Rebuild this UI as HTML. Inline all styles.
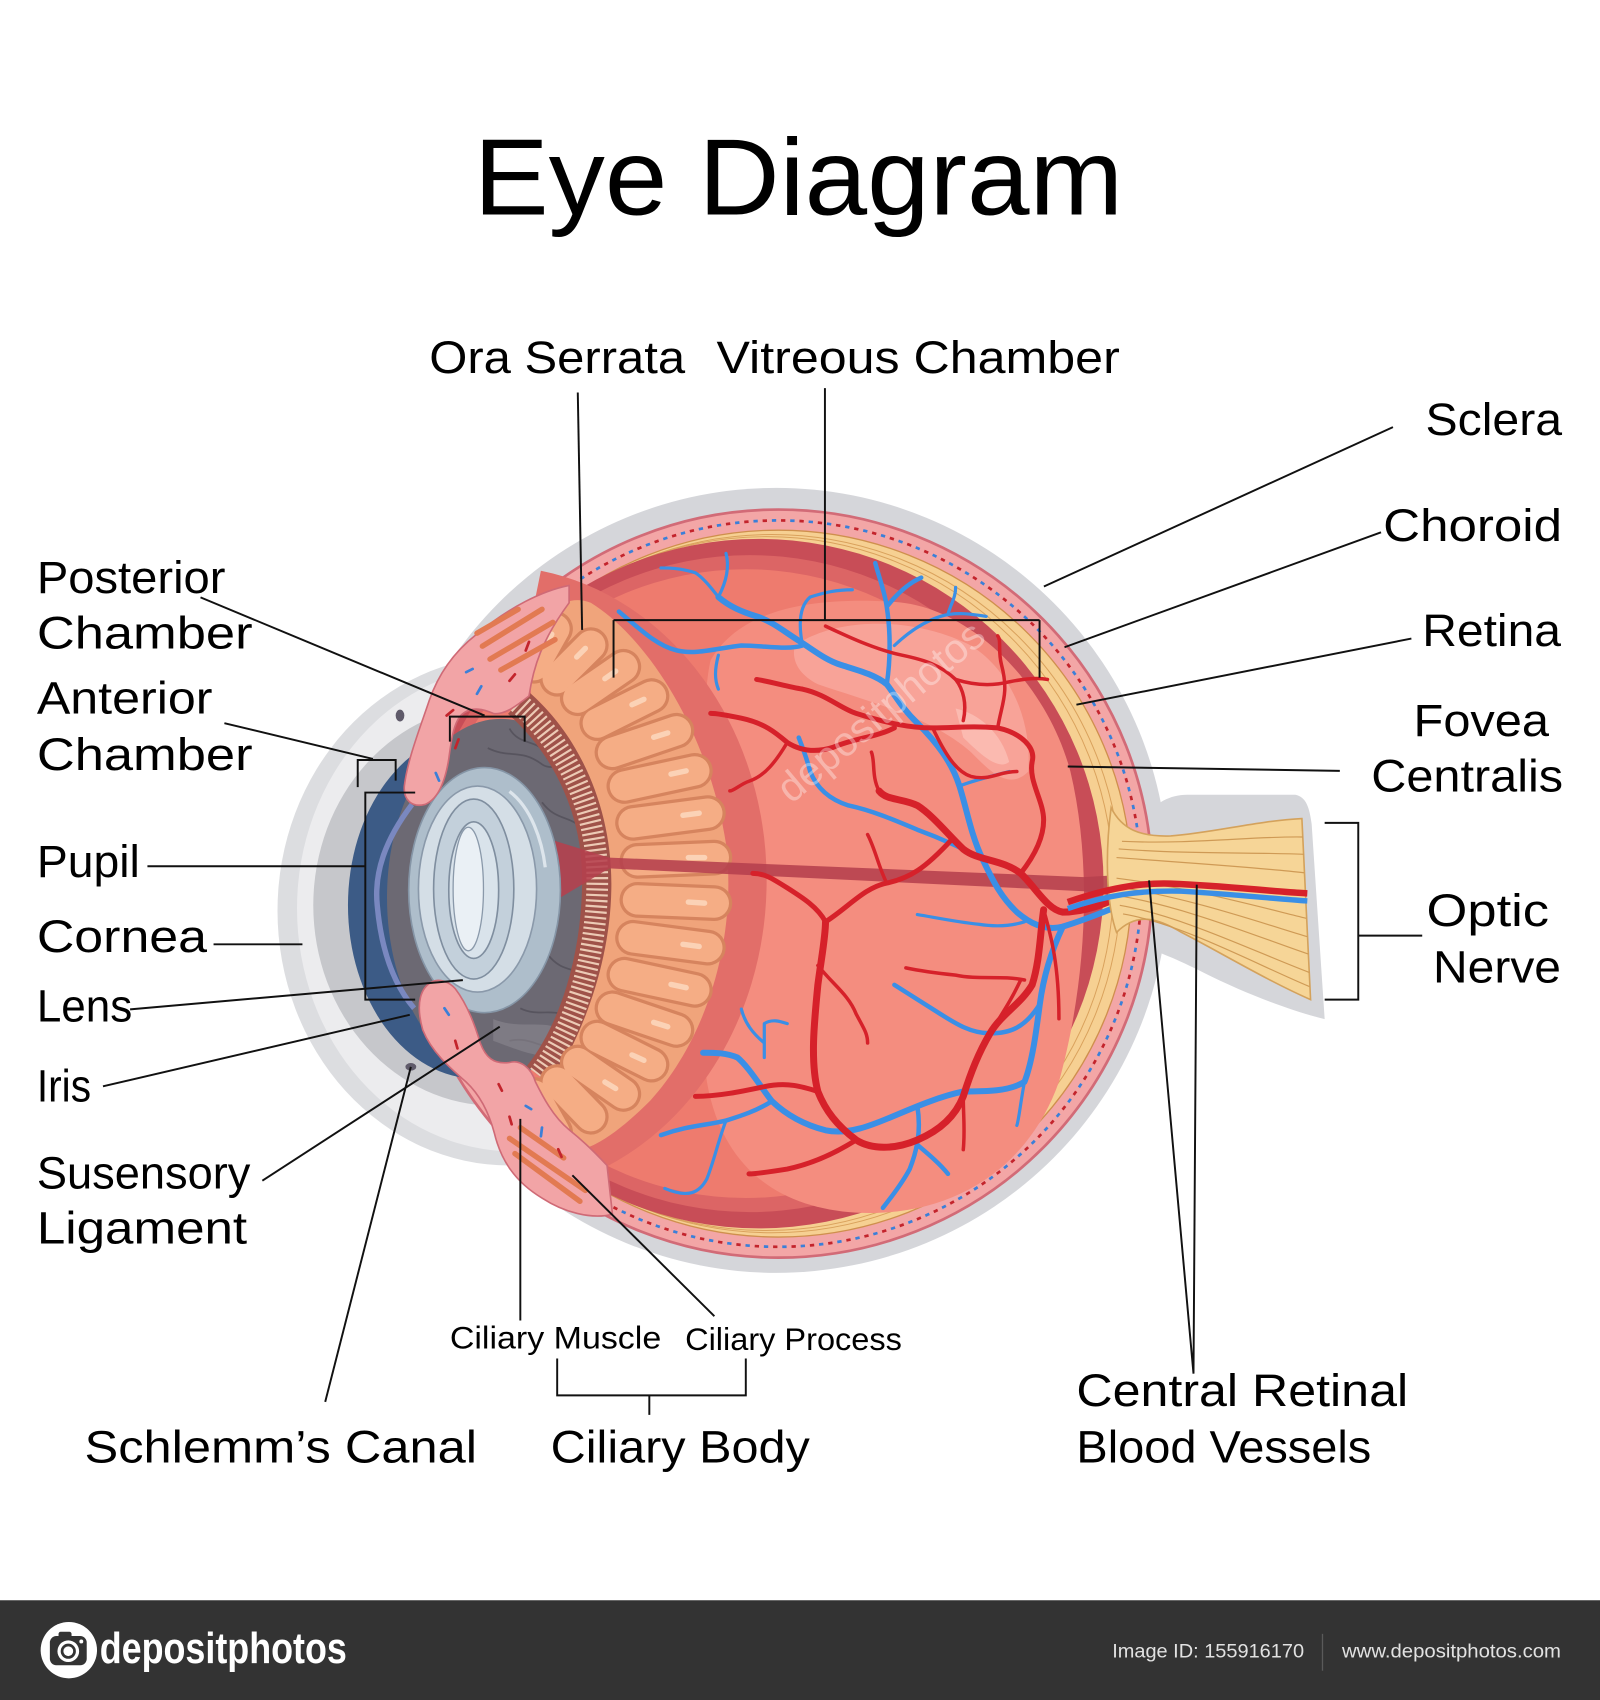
<!DOCTYPE html>
<html><head><meta charset="utf-8"><style>
html,body{margin:0;padding:0;background:#fff;overflow:hidden}
svg{display:block}
.lbl{font-family:"Liberation Sans",sans-serif;fill:#000}
.ln{stroke:#111;stroke-width:1.8;fill:none}
.v{fill:none;stroke-linecap:round;stroke-linejoin:round;vector-effect:non-scaling-stroke}
.r1{stroke:#d6212a;stroke-width:7}.r2{stroke:#d6212a;stroke-width:5}.r3{stroke:#d6212a;stroke-width:3.5}
.b1{stroke:#3a8fe6;stroke-width:6}.b2{stroke:#3a8fe6;stroke-width:4.5}.b3{stroke:#3a8fe6;stroke-width:3.2}
</style></head><body>
<svg width="1600" height="1700" viewBox="0 0 1476 1568" preserveAspectRatio="none" xmlns="http://www.w3.org/2000/svg">
<rect width="1476" height="1568" fill="#fff"/>

<!-- gray halo -->
<circle cx="716" cy="812" r="362" fill="#d5d6da"/>
<path d="M1045,770 C1058,745 1075,733 1095,733 L1195,733 C1205,735 1208,745 1210,760 L1222,940 C1190,932 1150,917 1110,897 C1080,882 1060,874 1045,872 Z" fill="#d5d6da"/>
<!-- cornea layers -->
<ellipse cx="470" cy="840" rx="214" ry="235" fill="#dcdde0"/>
<ellipse cx="474" cy="838" rx="200" ry="224" fill="#ececee"/>
<ellipse cx="457" cy="835" rx="168" ry="185" fill="#c6c7cb"/>

<!-- globe -->
<circle cx="718" cy="815" r="345" fill="#f3a6a6" stroke="#d26b77" stroke-width="2.5"/>
<circle cx="718" cy="815" r="335" fill="none" stroke="#c3242c" stroke-width="2.5" stroke-dasharray="4 13"/>
<circle cx="718" cy="815" r="335" fill="none" stroke="#3b7fd8" stroke-width="2.5" stroke-dasharray="4 13" stroke-dashoffset="8.5"/>
<circle cx="718" cy="815" r="326" fill="#f6d092" stroke="#cf8f4d" stroke-width="1.2"/>
<circle cx="712" cy="815" r="322" fill="none" stroke="#d9a15c" stroke-width="0.9"/>
<circle cx="707" cy="815" r="320" fill="none" stroke="#d9a15c" stroke-width="0.9"/>
<circle cx="700" cy="815" r="318" fill="#c84d57"/>
<circle cx="692" cy="815" r="303" fill="#dc6565"/>
<circle cx="688" cy="815" r="290" fill="#ee7b6e"/>

<!-- inner vitreous lighter region (zoom coords) -->
<g transform="matrix(0.3530 0 0 0.44712 507.38 461.25)">
<path d="M420,330 C500,220 700,200 900,210 C1100,220 1300,380 1360,560 C1420,760 1400,1000 1330,1200 C1250,1380 1050,1480 800,1470 C600,1460 450,1380 410,1200 C380,1000 390,700 400,500 C405,420 410,360 420,330 Z" fill="#f48d7f"/>
<path d="M640,300 C750,240 950,240 1100,300 C1200,350 1260,450 1250,560 C1200,600 1150,560 1100,520 C1000,450 850,420 700,380 C650,360 630,330 640,300 Z" fill="#f8a79c" opacity="0.85"/>
<path d="M1060,430 C1120,440 1180,480 1200,540 C1170,560 1120,520 1080,490 Z" fill="#fbbfb7" opacity="0.8"/>
</g>

<!-- dark band around ciliary -->
<path d="M495,546 A232 270 0 0 1 495,1078" fill="none" stroke="#e26e69" stroke-width="40"/>

<!-- cornea blue (left half) -->
<path d="M440,675 A119 160 0 0 0 440,995 Z" fill="#3c5b86"/>
<!-- iris dark -->
<ellipse cx="462" cy="828" rx="105" ry="165" fill="#6c6973"/>
<path d="M380,742 C355,775 345,805 348,835 C352,880 365,910 382,930" fill="none" stroke="#7a88c0" stroke-width="5"/>
<g fill="none" stroke="#57545e" stroke-width="1.6">
<path d="M450,690 C470,700 480,690 500,705 C510,712 520,700 530,715"/>
<path d="M470,672 C480,690 500,680 505,700"/>
<path d="M500,740 C515,760 530,750 540,770"/>
<path d="M480,930 C500,940 515,925 530,945"/>
<path d="M470,960 C490,955 500,970 520,965"/>
<path d="M505,880 C520,900 535,890 545,905"/>
</g>
<path d="M455,940 C480,950 500,940 520,950 L515,975 C490,975 470,965 455,960 Z" fill="#8a8790" opacity="0.6"/>

<!-- zonule band -->
<path d="M478,648 C525,690 552,750 551,815 C550,885 530,950 497,992" fill="none" stroke="#9f5249" stroke-width="28"/>
<path d="M478,648 C525,690 552,750 551,815 C550,885 530,950 497,992" fill="none" stroke="#eccab5" stroke-width="20" stroke-dasharray="2 3.2"/>

<!-- peach ciliary body -->
<path d="M495,585 C505,560 525,548 545,556 C600,590 655,680 670,780 C680,870 650,960 600,1015 C570,1045 545,1062 525,1062 C505,1060 500,1030 505,1005 C535,960 564,890 564,815 C564,745 535,680 490,640 C488,620 490,600 495,585 Z" fill="#f0a47b"/>
<g stroke-linecap="round" fill="none">
<g stroke="#d6845e" stroke-width="33">
<path d="M493,614 L512,580"/><path d="M514,626 L545,595"/><path d="M533,644 L575,615"/><path d="M551,667 L601,642"/><path d="M565,694 L624,674"/><path d="M576,725 L641,711"/><path d="M584,759 L653,750"/><path d="M588,794 L659,791"/><path d="M588,830 L659,833"/><path d="M584,865 L653,874"/><path d="M576,899 L641,913"/><path d="M565,930 L624,950"/><path d="M551,957 L601,982"/><path d="M533,980 L575,1009"/><path d="M514,998 L545,1030"/><path d="M493,1010 L512,1044"/>
</g>
<g stroke="#f5ad85" stroke-width="27">
<path d="M493,614 L512,580"/><path d="M514,626 L545,595"/><path d="M533,644 L575,615"/><path d="M551,667 L601,642"/><path d="M565,694 L624,674"/><path d="M576,725 L641,711"/><path d="M584,759 L653,750"/><path d="M588,794 L659,791"/><path d="M588,830 L659,833"/><path d="M584,865 L653,874"/><path d="M576,899 L641,913"/><path d="M565,930 L624,950"/><path d="M551,957 L601,982"/><path d="M533,980 L575,1009"/><path d="M514,998 L545,1030"/><path d="M493,1010 L512,1044"/>
</g>
<g stroke="#fbd2b6" stroke-width="5">
<path d="M504,594 L509,585"/><path d="M532,606 L540,598"/><path d="M558,626 L568,619"/><path d="M583,650 L594,645"/><path d="M603,680 L616,676"/><path d="M619,714 L633,711"/><path d="M630,752 L645,750"/><path d="M635,791 L650,791"/><path d="M635,832 L650,833"/><path d="M630,871 L645,873"/><path d="M619,908 L633,911"/><path d="M603,943 L616,947"/><path d="M583,973 L594,978"/><path d="M558,998 L568,1004"/>
</g>
</g>

<!-- hyaloid band -->
<path d="M510,775 L562,791 L1000,809 L1050,806 L1050,830 L1000,822 L562,801 L510,832 Z" fill="#b5404d" opacity="0.88"/>

<!-- lens -->
<ellipse cx="447" cy="821" rx="70" ry="113" fill="#aebecb" stroke="#8595a6" stroke-width="1.5"/>
<ellipse cx="440.5" cy="820" rx="54.5" ry="95" fill="#d4dee6" stroke="#8a99aa" stroke-width="1.5"/>
<ellipse cx="437" cy="820" rx="37" ry="83" fill="#c3d0db" stroke="#7f8e9f" stroke-width="1.5"/>
<ellipse cx="437" cy="821" rx="23" ry="63" fill="#d9e3eb" stroke="#7f8e9f" stroke-width="1.5"/>
<ellipse cx="432" cy="820" rx="14" ry="57" fill="#eaf0f5" stroke="#8a99aa" stroke-width="1.2"/>
<path d="M470,730 C490,745 500,775 503,800" fill="none" stroke="#e9eff4" stroke-width="3" opacity="0.8"/>

<!-- top front tissue -->
<path d="M525,540 C500,545 470,560 441,584 C420,600 405,620 396,646 C388,670 376,700 373,725 C372,738 380,745 392,742 C402,738 410,725 414,700 C416,685 418,668 425,660 C435,650 448,655 455,658 C465,660 478,650 488,642 C492,615 500,590 525,556 Z" fill="#f2a4a6" stroke="#cf6a76" stroke-width="1.5"/>
<g stroke="#e27a52" stroke-width="5" stroke-linecap="round">
<path d="M445,596 L500,562"/><path d="M452,608 L510,574"/><path d="M462,618 L512,590"/><path d="M440,584 L478,562"/>
</g>
<!-- bottom front tissue -->
<path d="M400,905 C388,910 383,925 390,950 C398,970 415,985 430,998 C445,1012 452,1030 456,1045 C462,1070 475,1090 500,1105 C520,1118 545,1125 565,1120 L560,1075 C548,1062 535,1050 525,1042 C510,1030 500,1010 494,998 C490,985 480,977 470,980 C455,982 448,975 443,962 C438,945 430,925 420,912 C414,905 405,903 400,905 Z" fill="#f2a4a6" stroke="#cf6a76" stroke-width="1.5"/>
<g stroke="#e27a52" stroke-width="5" stroke-linecap="round">
<path d="M470,1050 L540,1098"/><path d="M475,1064 L535,1108"/><path d="M480,1040 L520,1068"/>
</g>
<g stroke-width="2.5" stroke-linecap="round">
<path d="M420,690 l3,-8" stroke="#c3242c"/><path d="M405,720 l-3,-7" stroke="#3b7fd8"/><path d="M412,660 l6,-5" stroke="#c3242c"/><path d="M440,640 l4,-7" stroke="#3b7fd8"/><path d="M470,628 l5,-6" stroke="#c3242c"/><path d="M430,620 l6,-3" stroke="#3b7fd8"/><path d="M485,600 l3,-8" stroke="#c3242c"/>
<path d="M410,930 l4,6" stroke="#3b7fd8"/><path d="M420,960 l2,7" stroke="#c3242c"/><path d="M470,1030 l2,7" stroke="#c3242c"/><path d="M485,1020 l5,3" stroke="#3b7fd8"/><path d="M500,1040 l-1,8" stroke="#3b7fd8"/><path d="M515,1060 l3,7" stroke="#c3242c"/><path d="M460,1000 l3,6" stroke="#c3242c"/>
</g>
<ellipse cx="369" cy="660" rx="4" ry="5.5" fill="#5f5a6a"/>
<ellipse cx="379" cy="984" rx="5" ry="3.5" fill="#5f5a6a"/>

<!-- vessels (zoom coords) -->
<g transform="matrix(0.3530 0 0 0.44712 507.38 461.25)">
<path class="v b1" d="M1560,810 C1480,840 1420,860 1340,880 C1290,890 1250,870 1220,850 C1180,820 1160,790 1130,740 C1100,690 1090,640 1070,590 C1050,540 1010,500 960,460 C920,430 900,400 880,380 C850,360 800,350 760,340 C720,330 690,310 650,290 C610,270 580,250 540,240 C500,230 470,220 440,200"/>
<path class="v b2" d="M660,300 C620,310 560,300 500,300 C440,305 380,320 330,310 C280,300 240,270 180,230"/>
<path class="v b3" d="M440,320 C430,350 430,370 440,390"/>
<path class="v b3" d="M440,200 C420,180 400,160 380,150 C340,140 310,140 290,140 M440,200 C460,170 470,140 460,110"/>
<path class="v b3" d="M660,300 C650,260 650,220 680,200 C720,190 750,185 790,185"/>
<path class="v b2" d="M880,380 C890,330 890,270 880,220 C875,190 860,160 850,130 M880,220 C910,190 940,170 970,160"/>
<path class="v b3" d="M900,300 C940,270 980,250 1020,240 C1060,230 1100,235 1140,240 M1040,235 C1050,210 1060,200 1060,180"/>
<path class="v b2" d="M1130,740 C1080,720 1030,700 960,680 C900,660 840,640 780,630 C740,620 700,600 680,560 C670,530 660,510 650,490"/>
<path class="v b3" d="M1070,590 C1100,580 1150,570 1200,560"/>
<path class="v b1" d="M1340,880 C1310,930 1290,980 1280,1040 C1270,1100 1260,1160 1240,1200 C1200,1220 1140,1220 1080,1220 C1020,1230 960,1250 900,1270 C840,1290 780,1310 720,1300 C670,1290 620,1270 580,1240 C550,1210 520,1170 490,1150 C460,1140 430,1140 400,1140"/>
<path class="v b2" d="M580,1240 C540,1260 500,1270 460,1280 C410,1290 360,1290 290,1310"/>
<path class="v b3" d="M460,1280 C440,1320 430,1360 410,1400 C390,1430 360,1440 300,1420"/>
<path class="v b3" d="M560,1150 C560,1120 560,1100 560,1080 C580,1070 600,1075 620,1080 M560,1120 C530,1100 510,1080 500,1050"/>
<path class="v b2" d="M960,1250 C970,1300 960,1340 940,1380 C920,1410 890,1440 870,1460 M960,1330 C990,1350 1020,1370 1040,1390"/>
<path class="v b2" d="M1280,1040 C1240,1090 1200,1100 1150,1100 C1100,1100 1060,1080 1020,1060 C980,1040 940,1020 900,1000"/>
<path class="v b3" d="M1240,870 C1200,880 1160,880 1120,875 C1060,870 1000,860 960,855"/>
<path class="v b3" d="M1240,1200 C1230,1240 1225,1280 1220,1290"/>

<path class="v r1" d="M1560,795 C1480,820 1420,850 1340,850 C1300,845 1270,800 1230,770 C1180,740 1120,745 1080,720 C1040,690 1000,650 960,630 C920,615 880,620 860,600"/>
<path class="v r2" d="M1230,770 C1260,740 1290,700 1290,660 C1290,620 1250,580 1260,540 C1270,510 1230,480 1170,470 C1100,465 1060,470 1000,470 C940,470 880,460 800,440 C760,430 720,400 660,390 C620,385 580,375 540,370"/>
<path class="v r3" d="M1170,470 C1180,420 1200,400 1180,340 C1170,310 1180,290 1170,280"/>
<path class="v r3" d="M1080,455 C1090,420 1080,390 1060,370 C1020,340 980,330 920,320 C860,310 800,290 720,260"/>
<path class="v r3" d="M1060,370 C1100,380 1150,385 1200,375 C1230,370 1270,365 1300,370"/>
<path class="v r3" d="M860,600 C840,570 850,540 840,520"/>
<path class="v r2" d="M900,470 C850,490 800,490 740,510 C700,520 660,520 620,500 C590,480 560,460 500,450 C470,445 440,440 420,440"/>
<path class="v r3" d="M620,500 C590,540 560,570 520,580 C500,585 480,600 470,600"/>
<path class="v r1" d="M1290,845 C1280,900 1280,950 1260,1000 C1230,1040 1180,1060 1150,1100 C1120,1140 1100,1180 1080,1230 C1060,1270 1020,1300 960,1320 C900,1340 840,1340 800,1320 C750,1290 720,1260 700,1220 C680,1160 690,1080 700,1000 C710,940 720,900 720,870"/>
<path class="v r2" d="M720,870 C700,840 660,820 620,800 C580,780 560,770 530,770"/>
<path class="v r2" d="M720,870 C780,840 820,800 880,790 C940,780 980,760 1050,700"/>
<path class="v r3" d="M700,960 C740,1000 780,1020 800,1060 C820,1090 830,1100 830,1120"/>
<path class="v r2" d="M700,1220 C660,1210 620,1200 560,1210 C500,1220 440,1230 380,1230"/>
<path class="v r2" d="M800,1320 C740,1350 680,1370 620,1380 C580,1385 540,1390 520,1390"/>
<path class="v r3" d="M1290,845 C1310,900 1330,960 1330,1070"/>
<path class="v r3" d="M1240,990 C1180,980 1120,990 1060,980 C1000,975 960,970 930,965"/>
<path class="v r3" d="M1150,1100 C1180,1060 1200,1040 1230,990"/>
<path class="v r3" d="M1080,1230 C1080,1270 1085,1300 1080,1340"/>
<path class="v r3" d="M1000,470 C1030,520 1060,560 1100,570 C1150,580 1170,560 1220,560"/>
<path class="v r3" d="M880,790 C860,760 850,720 830,690"/>
</g>

<!-- watermark -->
<text x="0" y="0" transform="translate(730,742) rotate(-40)" font-family="Liberation Sans,sans-serif" font-size="38" fill="#fff" opacity="0.35">depositphotos</text>

<!-- optic nerve -->
<path d="M1025,745 C1035,765 1052,772 1080,771 C1120,768 1160,757 1201,755 L1209,922 C1170,905 1125,878 1090,860 C1070,848 1050,840 1030,860 C1021,835 1019,790 1025,745 Z" fill="#f6d597" stroke="#d4a25c" stroke-width="1.5"/>
<g fill="none" stroke="#cf9a55" stroke-width="1.1">
<path d="M1035,776 C1099,779 1160,771 1202,772"/>
<path d="M1032,783 C1098,788 1160,786 1203,788"/>
<path d="M1030,791 C1097,796 1160,800 1203,805"/>
<path d="M1030,810 C1094,818 1160,836 1205,847"/>
<path d="M1030,818 C1093,827 1160,850 1206,864"/>
<path d="M1031,826 C1092,836 1160,864 1207,880"/>
<path d="M1033,835 C1091,845 1160,879 1208,897"/>
<path d="M1036,843 C1090,852 1160,890 1208,910"/>
</g>
<path d="M985,838 C1020,826 1050,821 1090,822 C1140,825 1175,829 1206,831" fill="none" stroke="#3a8fe6" stroke-width="5"/>
<path d="M985,832 C1020,820 1050,814 1080,815 C1130,817 1170,822 1206,824" fill="none" stroke="#d6212a" stroke-width="6"/>

<!-- connector lines -->
<g class="ln">
<path d="M533,362 L537,581"/>
<path d="M761,358 L761,572 M566,572 L959,572 M566,572 L566,625 M959,572 L959,625"/>
<path d="M1285,394 L963,541"/>
<path d="M1274,491 L982,597"/>
<path d="M1302,589 L993,650"/>
<path d="M1236,711 L985,707"/>
<path d="M1222,759 L1253,759 L1253,922 L1222,922 M1253,863 L1312,863"/>
<path d="M1060,812 L1101,1267 L1104,816"/>
<path d="M185,551 L447,660 M415,684 L415,661 L484,661 L484,684"/>
<path d="M207,667 L344,700 M330,726 L330,701 L365,701 L365,720"/>
<path d="M136,799 L337,799 M383,731 L337,731 L337,922 L383,922"/>
<path d="M197,871 L279,871"/>
<path d="M120,931 L427,904"/>
<path d="M95,1002 L378,936"/>
<path d="M242,1089 L461,947"/>
<path d="M300,1293 L379,984"/>
<path d="M480,1032 L480,1218"/>
<path d="M528,1084 L659,1214"/>
<path d="M514,1253 L514,1287 L688,1287 L688,1253 M599,1287 L599,1305"/>
</g>

<!-- labels -->
<g class="lbl" font-size="42">
<text x="437" y="198" font-size="100" textLength="599" lengthAdjust="spacingAndGlyphs">Eye Diagram</text>
<text x="396" y="344" textLength="236" lengthAdjust="spacingAndGlyphs">Ora Serrata</text>
<text x="661" y="344" textLength="372" lengthAdjust="spacingAndGlyphs">Vitreous Chamber</text>
<text x="1315" y="401" textLength="126" lengthAdjust="spacingAndGlyphs">Sclera</text>
<text x="1276" y="499" textLength="165" lengthAdjust="spacingAndGlyphs">Choroid</text>
<text x="1312" y="596" textLength="128" lengthAdjust="spacingAndGlyphs">Retina</text>
<text x="1304" y="679" textLength="125" lengthAdjust="spacingAndGlyphs">Fovea</text>
<text x="1265" y="730" textLength="177" lengthAdjust="spacingAndGlyphs">Centralis</text>
<text x="1316" y="854" textLength="113" lengthAdjust="spacingAndGlyphs">Optic</text>
<text x="1322" y="906" textLength="118" lengthAdjust="spacingAndGlyphs">Nerve</text>
<text x="34" y="547" textLength="174" lengthAdjust="spacingAndGlyphs">Posterior</text>
<text x="34" y="598" textLength="199" lengthAdjust="spacingAndGlyphs">Chamber</text>
<text x="34" y="658" textLength="162" lengthAdjust="spacingAndGlyphs">Anterior</text>
<text x="34" y="710" textLength="199" lengthAdjust="spacingAndGlyphs">Chamber</text>
<text x="34" y="809" textLength="95" lengthAdjust="spacingAndGlyphs">Pupil</text>
<text x="34" y="878" textLength="157" lengthAdjust="spacingAndGlyphs">Cornea</text>
<text x="34" y="942" textLength="88" lengthAdjust="spacingAndGlyphs">Lens</text>
<text x="34" y="1016" textLength="50" lengthAdjust="spacingAndGlyphs">Iris</text>
<text x="34" y="1096" textLength="197" lengthAdjust="spacingAndGlyphs">Susensory</text>
<text x="34" y="1147" textLength="194" lengthAdjust="spacingAndGlyphs">Ligament</text>
<text x="415" y="1244" font-size="29" textLength="195" lengthAdjust="spacingAndGlyphs">Ciliary Muscle</text>
<text x="632" y="1245" font-size="29" textLength="200" lengthAdjust="spacingAndGlyphs">Ciliary Process</text>
<text x="78" y="1349" textLength="362" lengthAdjust="spacingAndGlyphs">Schlemm’s Canal</text>
<text x="508" y="1349" textLength="239" lengthAdjust="spacingAndGlyphs">Ciliary Body</text>
<text x="993" y="1297" textLength="306" lengthAdjust="spacingAndGlyphs">Central Retinal</text>
<text x="993" y="1349" textLength="272" lengthAdjust="spacingAndGlyphs">Blood Vessels</text>
</g>

<!-- footer -->
<rect x="0" y="1476" width="1476" height="92" fill="#333333"/>
<circle cx="63.5" cy="1522" r="26" fill="#fff"/>
<rect x="46" y="1509" width="34" height="27" rx="6" fill="#333"/>
<rect x="54" y="1505" width="12" height="6" rx="2" fill="#333"/>
<circle cx="63" cy="1523" r="10" fill="#fff"/>
<circle cx="63" cy="1523" r="7" fill="#333"/>
<circle cx="63" cy="1523" r="4.5" fill="#fff"/>
<circle cx="75" cy="1514" r="1.8" fill="#fff"/>
<text x="92" y="1534" font-family="Liberation Sans,sans-serif" font-weight="bold" font-size="40" fill="#fff" textLength="228" lengthAdjust="spacingAndGlyphs">depositphotos</text>
<text x="1026" y="1529" font-family="Liberation Sans,sans-serif" font-size="18" fill="#e2e2e2" textLength="177" lengthAdjust="spacingAndGlyphs">Image ID: 155916170</text>
<line x1="1220" y1="1507" x2="1220" y2="1541" stroke="#5a5a5a" stroke-width="1.2"/>
<text x="1238" y="1529" font-family="Liberation Sans,sans-serif" font-size="18" fill="#e2e2e2" textLength="202" lengthAdjust="spacingAndGlyphs">www.depositphotos.com</text>
</svg>
</body></html>
